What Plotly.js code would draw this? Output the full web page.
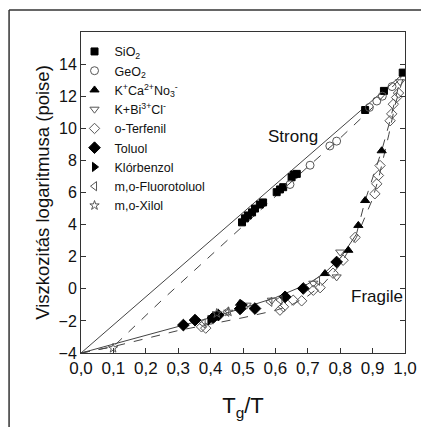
<!DOCTYPE html>
<html><head><meta charset="utf-8">
<script src="https://cdn.plot.ly/plotly-3.0.1.min.js"></script>
<style>html,body{margin:0;padding:0;background:#fff}#c{width:421px;height:427px}</style>
</head><body><div id="c"></div>
<script>
// Series data (Tg/T, log viscosity)
const sio2X = [0.497,0.506,0.515,0.528,0.537,0.552,0.562,0.604,0.614,0.624,0.650,0.657,0.666,0.877,0.935,0.993];
const sio2Y = [4.14,4.39,4.57,4.76,5.00,5.25,5.38,6.02,6.19,6.33,6.95,7.12,7.16,11.14,12.33,13.47];
const geo2X = [0.645,0.707,0.768,0.789,0.890,0.913,0.930,0.960];
const geo2Y = [6.5,7.7,8.9,9.2,11.3,11.7,12.0,12.6];
const kcaX = [0.491,0.753,0.825,0.856,0.877,0.928];
const kcaY = [-0.9,0.95,2.4,3.95,5.5,8.6];
const kbiX = [0.511,0.589,0.717,0.789,0.800,0.985];
const kbiY = [-1.02,-0.71,0.35,0.74,2.29,12.9];
const terfX = [0.372,0.385,0.614,0.625,0.655,0.681,0.717,0.738,0.778,0.809,0.846,0.907,0.913,0.918,0.923,0.954,0.959,0.964,0.974,0.980];
const terfY = [-2.37,-2.45,-1.33,-1.12,-0.71,-0.75,-0.09,0.07,0.97,1.78,3.2,5.92,6.54,7.06,7.68,10.47,10.9,11.5,11.92,12.2];
const toluolX = [0.316,0.352,0.408,0.424,0.491,0.537,0.630,0.686,0.789];
const toluolY = [-2.26,-1.95,-1.8,-1.64,-1.25,-1.23,-0.5,0.02,1.67];
const klorX = [0.357,0.398,0.419,0.501];
const klorY = [-1.95,-1.95,-1.74,-1.0];
const fluoroX = [0.377,0.45,0.583,0.614,0.73];
const fluoroY = [-2.16,-1.43,-0.81,-0.7,0.5];
const xilolX = [0.099,0.419,0.455];
const xilolY = [-3.7,-1.53,-1.43];

// Guide curves
const strongSolidX = [0,1];
const strongSolidY = [-4,13.5];
const strongDashX = [0,0.1,0.25,0.44,0.5,0.6,0.7,0.79,0.9,1.0];
const strongDashY = [-4,-3.6,-0.7,2.8,3.95,5.8,7.6,9.2,11.3,13.4];
const fragSolidX = [0,0.1,0.2,0.3,0.4,0.5,0.6,0.7,0.75,0.8,0.85];
const fragSolidY = [-4,-3.45,-2.9,-2.35,-1.8,-1.2,-0.55,0.3,0.95,1.9,3.4];
const fragUpperDashX = [0.85,0.877,0.9,0.928,0.95,0.97,0.99];
const fragUpperDashY = [3.4,5.5,6.9,8.6,10.2,11.8,13.4];
const fragLowerDashX = [0,0.1,0.2,0.3,0.4,0.5,0.6,0.65,0.7,0.75,0.8,0.85,0.9,0.92,0.95,0.97,1.0];
const fragLowerDashY = [-4,-3.6,-3.1,-2.6,-2.2,-1.8,-1.35,-1.0,-0.45,0.35,1.5,3.2,5.6,7.0,9.6,11.5,13.5];

const xTickVals = [0,0.1,0.2,0.3,0.4,0.5,0.6,0.7,0.8,0.9,1.0];
const xTickText = ["0,0","0,1","0,2","0,3","0,4","0,5","0,6","0,7","0,8","0,9","1,0"];
const yTickVals = [-4,-2,0,2,4,6,8,10,12,14];

const lc = '#444';
function line(x,y,dash){return {x:x,y:y,mode:'lines',type:'scatter',showlegend:false,hoverinfo:'skip',line:{color:lc,width:1,dash:dash}};}
function pts(x,y,name,sym,col,size){return {x:x,y:y,name:name,mode:'markers',type:'scatter',marker:{symbol:sym,size:size||7,color:col,line:{color:col,width:1}}};}

const data = [
  line(strongSolidX,strongSolidY,'solid'),
  line(strongDashX,strongDashY,'dash'),
  line(fragSolidX,fragSolidY,'solid'),
  line(fragUpperDashX,fragUpperDashY,'dash'),
  line(fragLowerDashX,fragLowerDashY,'dash'),
  pts(sio2X,sio2Y,'SiO<sub>2</sub>','square','#000',7),
  pts(geo2X,geo2Y,'GeO<sub>2</sub>','circle-open','#555',8),
  pts(kcaX,kcaY,'K<sup>+</sup>Ca<sup>2+</sup>No<sub>3</sub><sup>-</sup>','triangle-up','#000',8),
  pts(kbiX,kbiY,'K+Bi<sup>3+</sup>Cl<sup>-</sup>','triangle-down-open','#555',8),
  pts(terfX,terfY,'o-Terfenil','diamond-open','#555',8),
  pts(toluolX,toluolY,'Toluol','diamond','#000',9),
  pts(klorX,klorY,'Klórbenzol','triangle-right','#000',8),
  pts(fluoroX,fluoroY,'m,o-Fluorotoluol','triangle-left-open','#555',8),
  pts(xilolX,xilolY,'m,o-Xilol','star-open','#555',7)
];

const layout = {
  width:421,height:427,
  margin:{l:81,r:16,t:32,b:74},
  paper_bgcolor:'#fff',plot_bgcolor:'#fff',
  font:{family:'Liberation Sans, Arial, sans-serif',color:'#111',size:13},
  showlegend:true,
  legend:{x:-0.02,y:0.985,xanchor:'left',yanchor:'top',bgcolor:'rgba(0,0,0,0)',font:{size:12.5,color:'#111'},tracegroupgap:0,itemwidth:30},
  xaxis:{range:[0,1],tickvals:xTickVals,ticktext:xTickText,ticks:'inside',ticklen:5,tickcolor:'#333',
    showline:true,linecolor:'#333',linewidth:1,mirror:true,showgrid:false,zeroline:false,
    tickfont:{size:17},title:{text:'T<sub>g</sub>/T',font:{size:22},standoff:20}},
  yaxis:{range:[-4,16],tickvals:yTickVals,ticks:'inside',ticklen:5,tickcolor:'#333',
    showline:true,linecolor:'#333',linewidth:1,mirror:'ticks',showgrid:false,zeroline:false,
    tickfont:{size:16},title:{text:'Viszkozitás logaritmusa (poise)',font:{size:18.5},standoff:4}},
  annotations:[
    {x:0.654,y:9.48,xref:'x',yref:'y',text:'Strong',showarrow:false,font:{size:17,color:'#111'}},
    {x:0.914,y:-0.46,xref:'x',yref:'y',text:'Fragile',showarrow:false,font:{size:17,color:'#111'}}
  ],
  shapes:[
    {type:'line',xref:'paper',yref:'paper',x0:-0.222,x1:-0.222,y0:1.0685,y1:-0.25,line:{color:'#333',width:1.5}},
    {type:'line',xref:'paper',yref:'paper',x0:-0.222,x1:1.06,y0:1.0685,y1:1.0685,line:{color:'#333',width:1.5}}
  ]
};
Plotly.newPlot('c',data,layout,{staticPlot:true,displayModeBar:false});
</script></body></html>
